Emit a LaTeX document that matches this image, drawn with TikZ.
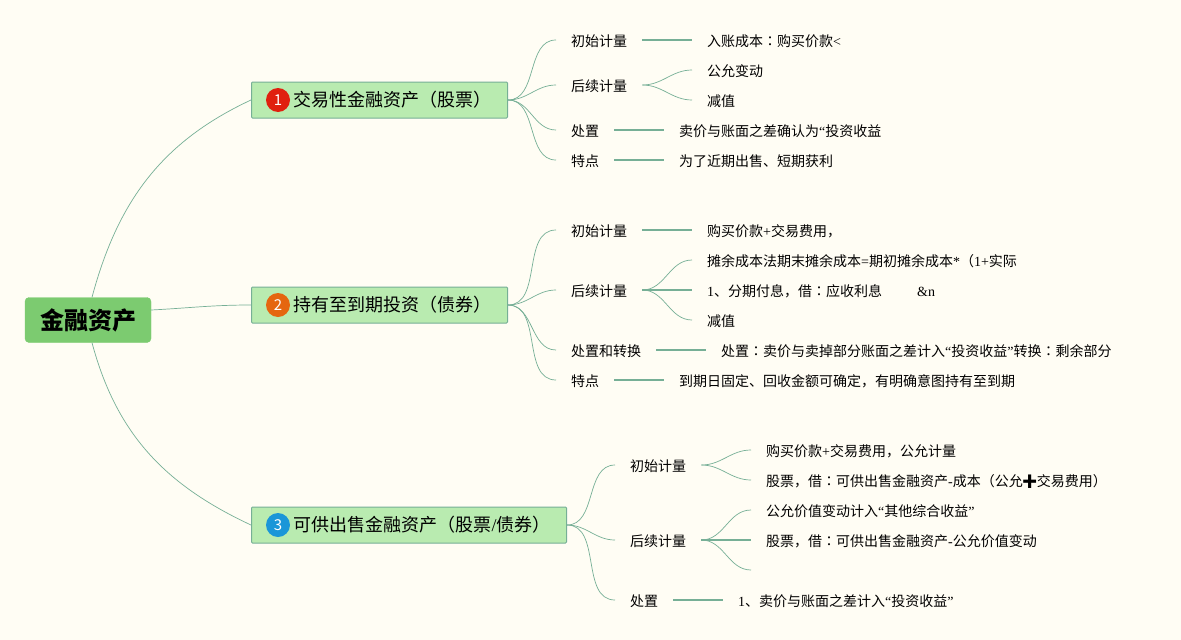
\documentclass[tikz,border=0pt]{standalone}
\usepackage{fontspec}
\usepackage{tikz}
\usetikzlibrary{positioning}
\setmainfont{Noto Sans CJK SC}
\newfontfamily\latfont{Liberation Serif}
\newfontfamily\emojifont{Noto Emoji}
\newfontfamily\colonfont{Noto Sans CJK TC}
\newcommand{\lat}[1]{{\latfont #1}}
\newcommand{\mycolon}{{\colonfont ：}}
\definecolor{paper}{HTML}{FFFDF4}
\definecolor{linkgreen}{HTML}{76AF96}
\definecolor{rootgreen}{HTML}{7CCB70}
\definecolor{topicgreen}{HTML}{B9EBB0}
\definecolor{badgered}{HTML}{E0200F}
\definecolor{badgeorange}{HTML}{E5660F}
\definecolor{badgeblue}{HTML}{1A96D8}
\tikzset{
  root/.style={draw=rootgreen, fill=rootgreen, rounded corners=4pt, minimum width=126pt, minimum height=45pt, font=\fontsize{24}{26}\selectfont\bfseries},
  topic/.style={draw=linkgreen, fill=topicgreen, line width=1pt, rounded corners=1pt, anchor=west, inner xsep=16pt, inner ysep=0pt, minimum height=36pt, text height=15pt, text depth=3pt, font=\fontsize{18}{20}\selectfont},
  badge/.style={circle, inner sep=0pt, minimum size=24pt, text=white, font=\fontsize{15}{18}\selectfont},
  item/.style={anchor=west, inner xsep=15pt, inner ysep=0pt, text height=14pt, text depth=2pt, font=\fontsize{14}{16}\selectfont},
  link/.style={draw=linkgreen, line width=0.7pt},
  stem/.style={draw=linkgreen, line width=1.1pt},
  sc/.style={out=0, in=180}
}
\begin{document}
\begin{tikzpicture}[x=1pt, y=-1pt]
  \useasboundingbox (0,0) rectangle (1181,640);
  \fill[paper] (0,0) rectangle (1181,640);

  \node[root] (root) at (88,320) {金融资产};
  \node[topic] (t1) at (251,100) {\hspace{26pt}交易性金融资产（股票）\hspace{-1pt}};
  \node[topic] (t2) at (251,305) {\hspace{26pt}持有至到期投资（债券）\hspace{-1pt}};
  \node[topic] (t3) at (251,525) {\hspace{26pt}可供出售金融资产（股票\lat{/}债券）\hspace{-2pt}};
  \node[badge, fill=badgered] (n1) at (278,100) {1};
  \node[badge, fill=badgeorange] (n2) at (278,305) {2};
  \node[badge, fill=badgeblue] (n3) at (278,525) {3};

  % first branch
  \node[item] (m11) at (556,40) {初始计量};
  \node[item] (m12) at (556,85) {后续计量};
  \node[item] (m13) at (556,130) {处置};
  \node[item] (m14) at (556,160) {特点};
  \node[item] (l11) at (692,40) {入账成本\mycolon 购买价款\lat{<}};
  \node[item] (l12) at (692,70) {公允变动};
  \node[item] (l13) at (692,100) {减值};
  \node[item] (l14) at (664,130) {卖价与账面之差确认为\lat{“}投资收益};
  \node[item] (l15) at (664,160) {为了近期出售、短期获利};

  % second branch
  \node[item] (m21) at (556,230) {初始计量};
  \node[item] (m22) at (556,290) {后续计量};
  \node[item] (m23) at (556,350) {处置和转换};
  \node[item] (m24) at (556,380) {特点};
  \node[item] (l21) at (692,230) {购买价款\lat{+}交易费用，};
  \node[item] (l22) at (692,260) {摊余成本法期末摊余成本\lat{=}期初摊余成本\lat{*}（\lat{1+}实际};
  \node[item] (l23) at (692,290) {\lat{1}、分期付息，借\mycolon 应收利息\hspace{35pt}\lat{\&n}};
  \node[item] (l24) at (692,320) {减值};
  \node[item] (l25) at (706,350) {处置\mycolon 卖价与卖掉部分账面之差计入\lat{“}投资收益\lat{”}转换\mycolon 剩余部分};
  \node[item] (l26) at (664,380) {到期日固定、回收金额可确定，有明确意图持有至到期};

  % third branch
  \node[item] (m31) at (615,465) {初始计量};
  \node[item] (m32) at (615,540) {后续计量};
  \node[item] (m33) at (615,600) {处置};
  \node[item] (l31) at (751,450) {购买价款\lat{+}交易费用，公允计量};
  \node[item] (l32) at (751,480) {股票，借\mycolon 可供出售金融资产\lat{-}成本（公允\makebox[14pt]{\emojifont ➕}交易费用）};
  \node[item] (l33) at (751,510) {公允价值变动计入\lat{“}其他综合收益\lat{”}};
  \node[item] (l34) at (751,540) {股票，借\mycolon 可供出售金融资产\lat{-}公允价值变动};
  \coordinate (l35) at (751,570);
  \node[item] (l36) at (723,600) {\lat{1}、卖价与账面之差计入\lat{“}投资收益\lat{”}};

  \path[link]
  ([xshift=4pt]root.north) edge [out=75, in=205] (t1.west)
  ([yshift=10pt]root.east) edge [out=3, in=180] (t2.west)
  ([xshift=4pt]root.south) edge [out=-75, in=155] (t3.west)
  (t1.east) edge [sc] (m11.west)
  (t1.east) edge [sc] (m12.west)
  (t1.east) edge [sc] (m13.west)
  (t1.east) edge [sc] (m14.west)
  (m12.east) edge [sc] (l12.west)
  (m12.east) edge [sc] (l13.west)
  (t2.east) edge [sc] (m21.west)
  (t2.east) edge [sc] (m22.west)
  (t2.east) edge [sc] (m23.west)
  (t2.east) edge [sc] (m24.west)
  (m22.east) edge [sc] (l22.west)
  (m22.east) edge [sc] (l24.west)
  (t3.east) edge [sc] (m31.west)
  (t3.east) edge [sc] (m32.west)
  (t3.east) edge [sc] (m33.west)
  (m31.east) edge [sc] (l31.west)
  (m31.east) edge [sc] (l32.west)
  (m32.east) edge [sc] (l33.west)
  (m32.east) edge [sc] (l35);

  \path[stem]
  (m11.east) edge (l11.west)
  (m13.east) edge (l14.west)
  (m14.east) edge (l15.west)
  (m21.east) edge (l21.west)
  (m22.east) edge (l23.west)
  (m23.east) edge (l25.west)
  (m24.east) edge (l26.west)
  (m32.east) edge (l34.west)
  (m33.east) edge (l36.west);
\end{tikzpicture}
\end{document}
